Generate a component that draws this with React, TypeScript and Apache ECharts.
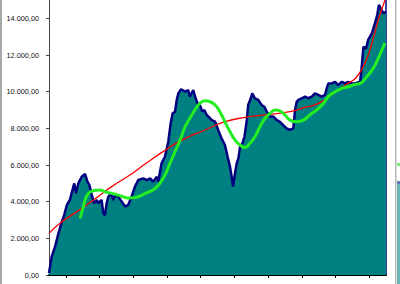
import React, { useEffect, useRef } from "react";
import * as echarts from "echarts";

// x positions are in "period" units (10 periods across the axis); values in index points
const periods = ["1", "2", "3", "4", "5", "6", "7", "8", "9", "10"];

const indexX = [
  0, 0.08, 0.18, 0.28, 0.38, 0.45, 0.53, 0.62, 0.67, 0.75, 0.8, 0.87, 0.97, 1.07, 1.14, 1.2, 1.27, 1.34,
  1.42, 1.46, 1.56, 1.61, 1.66, 1.71, 1.76, 1.84, 1.91, 1.96, 2.06, 2.16, 2.26, 2.35, 2.45, 2.55, 2.65,
  2.8, 2.9, 3.0, 3.09, 3.2, 3.24, 3.34, 3.44, 3.54, 3.61, 3.67, 3.74, 3.79, 3.84, 3.92, 4.04, 4.13, 4.18,
  4.28, 4.35, 4.41, 4.48, 4.55, 4.61, 4.68, 4.78, 4.83, 4.93, 5.02, 5.12, 5.22, 5.3, 5.37, 5.42, 5.46,
  5.52, 5.57, 5.62, 5.67, 5.74, 5.8, 5.87, 5.91, 5.99, 6.03, 6.11, 6.21, 6.31, 6.39, 6.46, 6.56, 6.66,
  6.76, 6.85, 6.95, 7.05, 7.15, 7.25, 7.3, 7.35, 7.4, 7.5, 7.6, 7.69, 7.8, 7.89, 7.99, 8.09, 8.19, 8.24,
  8.29, 8.39, 8.49, 8.58, 8.69, 8.78, 8.88, 8.98, 9.08, 9.23, 9.28, 9.33, 9.41, 9.47, 9.58, 9.67, 9.74,
  9.79, 9.87, 9.92, 10.0,
];
const indexValues = [
  100, 1000, 1550, 2270, 2900, 3270, 3820, 4090, 4450, 5000, 4450, 5000, 5360, 5510, 5090, 4900, 4360, 3910,
  4090, 3910, 4090, 3370, 3270, 3910, 4270, 4450, 4090, 4360, 4270, 4000, 3730, 3820, 4270, 4820, 5180,
  5270, 5180, 5270, 5090, 5360, 5090, 6090, 6450, 7270, 8270, 8820, 8910, 9550, 9910, 10130, 10000, 10090, 9730,
  10090, 9640, 9360, 9270, 8910, 9000, 8730, 8550, 8450, 8360, 7910, 7450, 7090, 6450, 5910, 5360, 4820,
  5550, 6090, 6360, 7000, 7180, 7540, 8450, 9270, 9640, 9910, 9640, 9550, 9270, 9180, 8910, 8640, 8640,
  8450, 8360, 8180, 8000, 7910, 8000, 9000, 9450, 9550, 9640, 9730, 9640, 9730, 9910, 9820, 9730, 9820, 10180,
  10450, 10450, 10540, 10360, 10540, 10450, 10540, 10450, 10450, 10540, 11360, 12450, 12360, 12820, 13180, 13730, 14180,
  14730, 14450, 14270, 14360,
];

const avgX = [
  0.92, 1.02, 1.07, 1.17, 1.31, 1.51, 1.66, 1.86, 2.06, 2.26, 2.4, 2.55, 2.7, 2.85, 3.0, 3.15, 3.29, 3.44,
  3.59, 3.74, 3.89, 4.04, 4.18, 4.33, 4.48, 4.63, 4.78, 4.93, 5.07, 5.22, 5.37, 5.52, 5.67, 5.82, 5.96,
  6.11, 6.26, 6.41, 6.56, 6.71, 6.85, 7.0, 7.15, 7.35, 7.55, 7.74, 7.94, 8.14, 8.29, 8.49, 8.69, 8.88,
  9.08, 9.23, 9.43, 9.62, 9.77, 9.92, 9.97,
];
const avgValues = [
  3090, 3730, 4090, 4450, 4600, 4640, 4540, 4450, 4360, 4230, 4200, 4230, 4300, 4450, 4560, 4730, 5000, 5450,
  6090, 6730, 7360, 8090, 8550, 9000, 9360, 9500, 9450, 9270, 8910, 8360, 7820, 7360, 7090, 6950, 7180,
  7540, 8090, 8550, 8820, 9000, 8950, 8730, 8450, 8360, 8450, 8730, 9000, 9360, 9730, 10000, 10180, 10270,
  10400, 10450, 10820, 11270, 11820, 12450, 12640,
];

const trendX = [0, 0.38, 0.87, 1.36, 1.86, 2.4, 2.85, 3.44, 3.99, 4.63, 5.22, 5.82, 6.41, 7.15, 7.5, 7.99, 8.49, 8.83, 9.13, 9.43, 9.62, 9.77, 9.97];
const trendValues = [2270, 2900, 3500, 4150, 4820, 5450, 6050, 6800, 7400, 7910, 8360, 8600, 8730, 8910, 9090, 9360, 9950, 10400, 10800, 11800, 12900, 13900, 15000];

const yMax = 15000;
const yStep = 2000;

const zip = (xs: number[], ys: number[]) => xs.map((x, i) => [x, ys[i]]);

const fmt = (v: number) => {
  const s = Math.round(v).toString().replace(/\B(?=(\d{3})+(?!\d))/g, ".");
  return s + ",00";
};

export default function App() {
  const ref = useRef<HTMLDivElement>(null);
  useEffect(() => {
    if (!ref.current) return;
    const chart = echarts.init(ref.current, null, { renderer: "svg" });
    chart.setOption({
      animation: false,
      backgroundColor: "#ffffff",
      grid: { left: 49, top: 0, right: 14, bottom: 9, containLabel: false },
      xAxis: [
        { type: "value", min: 0, max: 10, show: false },
        {
          type: "category",
          data: periods,
          position: "bottom",
          boundaryGap: true,
          axisLine: { show: true, lineStyle: { color: "#000", width: 2 } },
          axisTick: { show: true, alignWithLabel: true, length: 3, lineStyle: { color: "#000" } },
          axisLabel: { show: false },
          splitLine: { show: false },
        },
      ],
      yAxis: [
        {
          type: "value",
          min: 0,
          max: yMax,
          interval: yStep,
          axisLine: { show: true, lineStyle: { color: "#444", width: 1 } },
          axisTick: { show: true, inside: false, length: 3, lineStyle: { color: "#444" } },
          axisLabel: {
            margin: 10,
            fontSize: 7.3,
            fontFamily: "Liberation Sans, Arial, sans-serif",
            color: "#111",
            showMaxLabel: false,
            formatter: (v: number) => (v % yStep === 0 ? fmt(v) : ""),
          },
          splitLine: { show: false },
        },
        {
          type: "value",
          min: 0,
          max: yMax,
          position: "right",
          axisLine: { show: true, lineStyle: { color: "#000080", width: 1.5 } },
          axisTick: { show: false },
          axisLabel: { show: false },
          splitLine: { show: false },
        },
      ],
      series: [
        {
          type: "line",
          xAxisIndex: 0,
          yAxisIndex: 0,
          data: zip(indexX, indexValues),
          showSymbol: false,
          lineStyle: { color: "#000080", width: 2.5 },
          areaStyle: { color: "#008080", opacity: 1 },
          z: 2,
        },
        {
          type: "line",
          xAxisIndex: 0,
          yAxisIndex: 0,
          data: zip(trendX, trendValues),
          showSymbol: false,
          smooth: true,
          lineStyle: { color: "#ff0000", width: 1.3 },
          z: 3,
        },
        {
          type: "line",
          xAxisIndex: 0,
          yAxisIndex: 0,
          data: zip(avgX, avgValues),
          showSymbol: false,
          smooth: true,
          lineStyle: { color: "#22ee22", width: 3 },
          z: 4,
        },
      ],
      graphic: [
        { type: "rect", left: 0, top: 0, shape: { width: 2, height: 284 }, style: { fill: "#a8a8a8" } },
        { type: "rect", left: 395, top: 0, shape: { width: 1.5, height: 284 }, style: { fill: "#b8b8b8" } },
        { type: "rect", left: 397, top: 183, shape: { width: 3, height: 101 }, style: { fill: "#6fb5b5" } },
        { type: "rect", left: 397, top: 163, shape: { width: 3, height: 3 }, style: { fill: "#77ee77" } },
        { type: "rect", left: 397, top: 181, shape: { width: 3, height: 3 }, style: { fill: "#6a78b0" } },
      ],
    });
    return () => chart.dispose();
  }, []);
  return (
    <div
      ref={ref}
      style={{ position: "fixed", left: 0, top: 0, width: 400, height: 284, background: "#fff" }}
    />
  );
}
